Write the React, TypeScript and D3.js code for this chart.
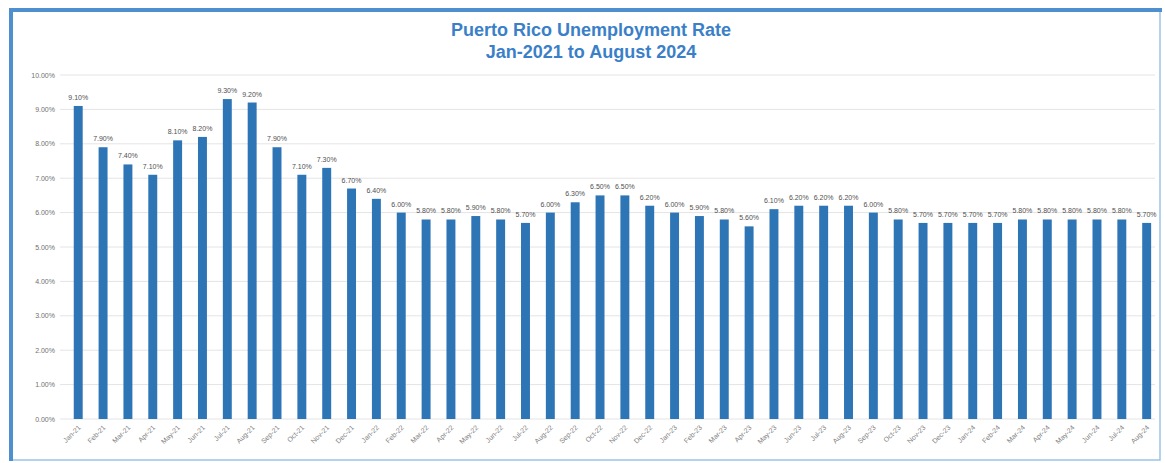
import React from "react";
import * as d3 from "d3";

const months: string[] = [
  "Jan-21","Feb-21","Mar-21","Apr-21","May-21","Jun-21","Jul-21","Aug-21","Sep-21","Oct-21","Nov-21","Dec-21",
  "Jan-22","Feb-22","Mar-22","Apr-22","May-22","Jun-22","Jul-22","Aug-22","Sep-22","Oct-22","Nov-22","Dec-22",
  "Jan-23","Feb-23","Mar-23","Apr-23","May-23","Jun-23","Jul-23","Aug-23","Sep-23","Oct-23","Nov-23","Dec-23",
  "Jan-24","Feb-24","Mar-24","Apr-24","May-24","Jun-24","Jul-24","Aug-24",
];

const rates: number[] = [
  9.1, 7.9, 7.4, 7.1, 8.1, 8.2, 9.3, 9.2, 7.9, 7.1, 7.3, 6.7,
  6.4, 6.0, 5.8, 5.8, 5.9, 5.8, 5.7, 6.0, 6.3, 6.5, 6.5, 6.2,
  6.0, 5.9, 5.8, 5.6, 6.1, 6.2, 6.2, 6.2, 6.0, 5.8, 5.7, 5.7,
  5.7, 5.7, 5.8, 5.8, 5.8, 5.8, 5.8, 5.7,
];

const yTicks: number[] = [0, 1, 2, 3, 4, 5, 6, 7, 8, 9, 10];

const titleLines: string[] = ["Puerto Rico Unemployment Rate", "Jan-2021 to August 2024"];

const W = 1165;
const H = 463;

export default function App() {
  const x = d3
    .scaleBand<string>()
    .domain(months)
    .range([66.3, 1158.6])
    .paddingInner(0.64)
    .paddingOuter(0.3);
  const y = d3.scaleLinear().domain([0, 10]).range([419, 75]);
  const fmt = (v: number) => v.toFixed(2) + "%";
  const font = "Liberation Sans, Arial, sans-serif";
  const bw = x.bandwidth();

  return (
    <svg
      width={W}
      height={H}
      style={{ position: "absolute", left: 0, top: 0, background: "#fff" }}
      fontFamily={font}
    >
      <rect x={0} y={0} width={W} height={H} fill="#fff" />
      {/* frame */}
      <rect x={11} y={10} width={1149} height={450} fill="#fff" stroke="#9cc3e6" strokeWidth={1.5} />
      <line x1={9} x2={1162} y1={10} y2={10} stroke="#4e8fcf" strokeWidth={4} />
      <line x1={11} x2={11} y1={8} y2={461} stroke="#4e8fcf" strokeWidth={4} />

      {/* title */}
      {titleLines.map((t, i) => (
        <text
          key={t}
          x={591}
          y={36 + i * 22}
          textAnchor="middle"
          fontSize={18}
          fontWeight="bold"
          fill="#3a7fc8"
        >
          {t}
        </text>
      ))}

      {/* grid + y axis */}
      {yTicks.map((t) => (
        <g key={t}>
          <line x1={60} x2={1155} y1={y(t)} y2={y(t)} stroke="#e4e4e4" strokeWidth={1} />
          <text x={55} y={y(t) + 2.5} textAnchor="end" fontSize={7} fill="#707070">
            {fmt(t)}
          </text>
        </g>
      ))}

      {/* bars */}
      {months.map((m, i) => (
        <rect
          key={m}
          x={x(m)!}
          y={y(rates[i])}
          width={bw}
          height={y(0) - y(rates[i])}
          fill="#2e75b6"
        />
      ))}

      {/* value labels */}
      {months.map((m, i) => (
        <text
          key={m + "v"}
          x={x(m)! + bw / 2}
          y={y(rates[i]) - 6}
          textAnchor="middle"
          fontSize={7}
          fill="#505050"
        >
          {fmt(rates[i])}
        </text>
      ))}

      {/* x labels */}
      {months.map((m) => {
        const cx = x(m)! + bw / 2 + 3;
        const cy = 428;
        return (
          <text
            key={m + "x"}
            x={cx}
            y={cy}
            textAnchor="end"
            fontSize={7}
            fill="#808080"
            transform={`rotate(-45 ${cx} ${cy})`}
          >
            {m}
          </text>
        );
      })}
    </svg>
  );
}
